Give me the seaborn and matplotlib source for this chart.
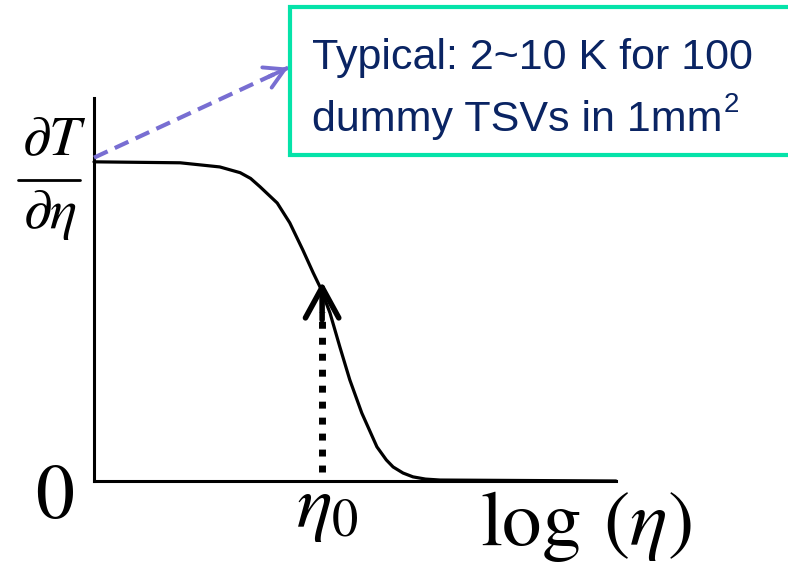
import matplotlib
matplotlib.use("Agg")
import matplotlib.pyplot as plt
import seaborn as sns
import pandas as pd
from matplotlib.patches import Rectangle
from matplotlib.lines import Line2D

# ---- data (schematic sigmoid) ----
log_eta = [0.0, 1.65, 2.41, 2.80, 3.00, 3.18, 3.51, 3.75, 4.00, 4.20, 4.33,
           4.52, 4.71, 4.90, 5.13, 5.42, 5.60, 5.73, 5.92, 6.11, 6.35, 6.63, 10.0]
dT_deta = [1.0, 0.997, 0.984, 0.966, 0.948, 0.922, 0.871, 0.809, 0.724, 0.652, 0.608,
           0.527, 0.420, 0.317, 0.213, 0.107, 0.066, 0.044, 0.025, 0.013, 0.006, 0.003, 0.0]
eta0 = 4.37          # position of eta_0 on the log axis
eta0_level = 0.625   # height where the dotted arrow meets the curve
callout_start = (0.0, 1.013)
callout_end = (3.72, 1.295)

box_lines = ["Typical: 2~10 K for 100", "dummy TSVs in 1mm", "2"]

df = pd.DataFrame({"log_eta": log_eta, "dT": dT_deta})

sns.set_style("white")
plt.rcParams["mathtext.fontset"] = "stix"

W, H = 788, 564
fig = plt.figure(figsize=(W / 100, H / 100), dpi=100)
ax = fig.add_axes([94 / W, 1 - 481 / H, 522 / W, 383 / H])

sns.lineplot(data=df, x="log_eta", y="dT", ax=ax, color="black",
             linewidth=2.3, sort=False, clip_on=False, zorder=3)

ax.set_xlim(0, 10)
ax.set_ylim(0, 1.2)
ax.set_xticks([])
ax.set_yticks([])
ax.set_xlabel("")
ax.set_ylabel("")
for s in ["top", "right"]:
    ax.spines[s].set_visible(False)
for s in ["left", "bottom"]:
    ax.spines[s].set_linewidth(2.2)
    ax.spines[s].set_color("black")

# dotted arrow at eta_0
ax.plot([eta0, eta0], [0.028, eta0_level - 0.095], color="black",
        linewidth=5.0, linestyle=(0, (1, 1.3)), solid_capstyle="butt",
        dash_capstyle="butt", zorder=4)
ax.annotate("", xy=(eta0, eta0_level), xytext=(eta0, eta0_level - 0.12),
            arrowprops=dict(arrowstyle="->,head_length=1.1,head_width=0.6",
                            mutation_scale=20, lw=4.0, color="black",
                            capstyle="round", joinstyle="round",
                            shrinkA=0, shrinkB=0), zorder=5)

# dashed purple callout arrow
pc = "#786ED2"
ax.plot([callout_start[0], callout_end[0]], [callout_start[1], callout_end[1]],
        color=pc, linewidth=3.0, linestyle=(0, (3.6, 1.9)), clip_on=False,
        zorder=4)
back = (callout_start[0] + 0.9 * (callout_end[0] - callout_start[0]),
        callout_start[1] + 0.9 * (callout_end[1] - callout_start[1]))
ax.annotate("", xy=callout_end, xytext=back, annotation_clip=False,
            arrowprops=dict(arrowstyle="->,head_length=0.7,head_width=0.4",
                            mutation_scale=20, lw=2.8, color=pc,
                            shrinkA=0, shrinkB=0), zorder=5)

# text box
fig.patches.append(Rectangle((290 / W, 1 - 155 / H), 520 / W, 148 / H,
                             transform=fig.transFigure, facecolor="white",
                             edgecolor="#05E3A9", linewidth=3.0, zorder=1))
navy = "#0A2463"
box_font = ["Liberation Sans", "DejaVu Sans"]
fig.text(312 / W, 1 - 69 / H, box_lines[0], fontsize=31, color=navy,
         family=box_font, ha="left", va="baseline")
t2 = fig.text(312 / W, 1 - 131 / H, box_lines[1], fontsize=31, color=navy,
              family=box_font, ha="left", va="baseline")
fig.canvas.draw()
ext = t2.get_window_extent(renderer=fig.canvas.get_renderer())
fig.text(ext.x1 / W + 1 / W, 1 - 112 / H, box_lines[2], fontsize=20,
         color=navy, family=box_font, ha="left", va="baseline")

# y-axis label as a stacked fraction
fig.text(54 / W, 1 - 155 / H, r"$\partial T$", fontsize=41,
         ha="center", va="baseline", color="black")
fig.add_artist(Line2D([18 / W, 80 / W], [1 - 180 / H, 1 - 180 / H],
                      transform=fig.transFigure, color="black", linewidth=2.0))
fig.text(50 / W, 1 - 228 / H, r"$\partial \eta$", fontsize=41,
         ha="center", va="baseline", color="black")

fig.text(55 / W, 1 - 518 / H, "0", family="STIXGeneral", fontsize=56,
         ha="center", va="baseline", color="black")
fig.text(327 / W, 1 - 527 / H, r"$\eta_0$", fontsize=54,
         ha="center", va="baseline", color="black")
fig.text(586 / W, 1 - 545 / H, r"$\log\:(\eta)$", fontsize=57,
         ha="center", va="baseline", color="black")

fig.savefig("out.png", dpi=100)
